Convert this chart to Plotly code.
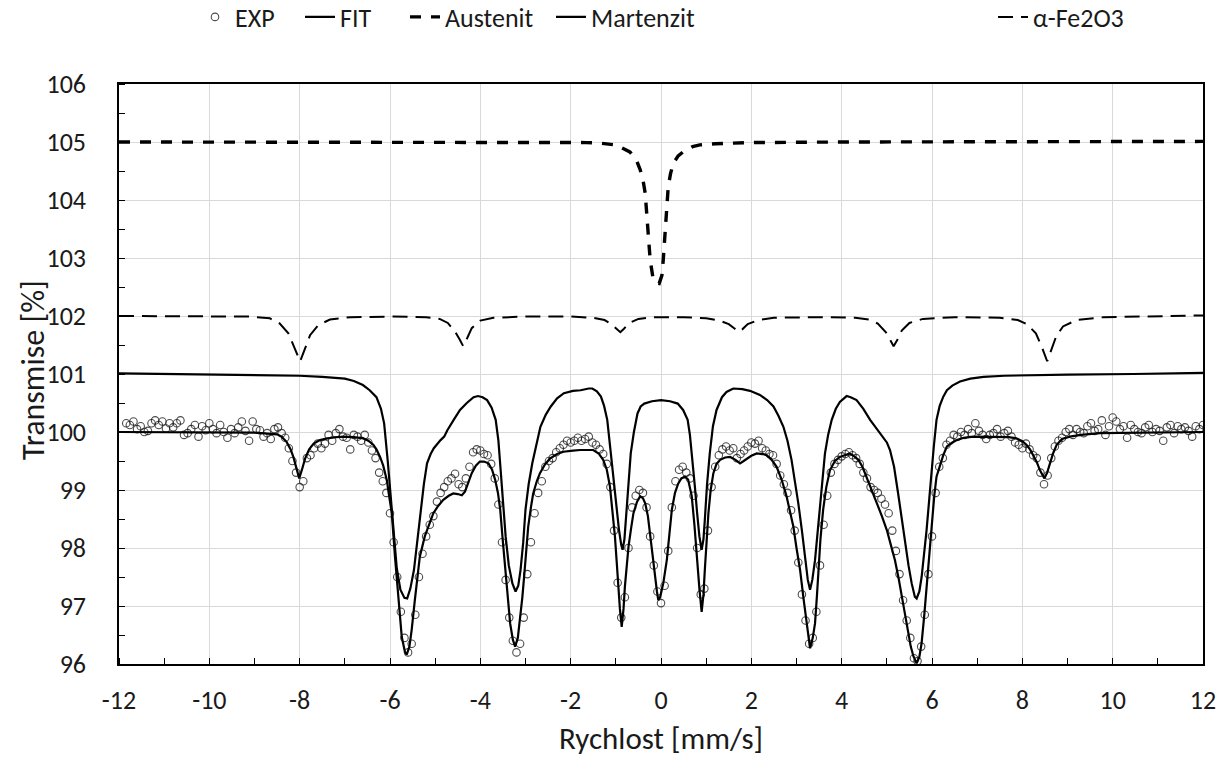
import numpy as np
import plotly.graph_objects as go

# ---------------- DATA ----------------
# Experimental points: velocity grid -11.84 ... 12.00 mm/s (step 0.08), transmission values
exp_x_start = -11.84
exp_x_step = 0.08
exp_y = [
    100.15, 100.12, 100.18, 100.05, 100.10, 100.00, 100.02, 100.15, 100.20, 100.12,
    100.18, 100.06, 100.15, 100.08, 100.15, 100.20, 99.95, 99.98, 100.05, 100.12,
    99.92, 100.10, 100.03, 100.15, 100.05, 99.98, 100.12, 100.00, 99.90, 100.05,
    99.98, 100.08, 100.18, 100.02, 99.85, 100.18, 100.05, 100.03, 99.92, 99.98,
    99.88, 100.05, 100.08, 99.98, 99.90, 99.72, 99.50, 99.30, 99.05, 99.15,
    99.55, 99.60, 99.72, 99.80, 99.72, 99.80, 99.95, 99.85, 99.98, 100.05,
    99.92, 99.90, 99.70, 99.95, 99.92, 99.85, 99.95, 99.82, 99.68, 99.55,
    99.30, 99.15, 98.95, 98.60, 98.10, 97.50, 96.90, 96.45, 96.20, 96.35,
    96.85, 97.50, 97.90, 98.20, 98.40, 98.55, 98.80, 98.95, 99.05, 99.15,
    99.20, 99.28, 99.10, 99.05, 99.20, 99.40, 99.65, 99.70, 99.68, 99.62,
    99.60, 99.45, 99.20, 98.75, 98.10, 97.45, 96.80, 96.40, 96.20, 96.35,
    96.80, 97.55, 98.10, 98.60, 98.95, 99.15, 99.40, 99.50, 99.55, 99.65,
    99.72, 99.78, 99.85, 99.82, 99.85, 99.90, 99.85, 99.88, 99.92, 99.82,
    99.78, 99.70, 99.62, 99.45, 99.05, 98.30, 97.40, 96.80, 97.15, 98.00,
    98.70, 98.90, 99.00, 98.95, 98.70, 98.20, 97.70, 97.25, 97.05, 97.35,
    97.95, 98.70, 99.15, 99.35, 99.40, 99.30, 99.20, 98.90, 98.00, 97.20,
    97.30, 98.30, 99.05, 99.40, 99.60, 99.70, 99.75, 99.68, 99.72, 99.55,
    99.62, 99.68, 99.75, 99.82, 99.80, 99.85, 99.72, 99.68, 99.62, 99.60,
    99.45, 99.25, 99.10, 98.95, 98.65, 98.30, 97.75, 97.20, 96.75, 96.35,
    96.45, 96.90, 97.70, 98.40, 98.90, 99.30, 99.45, 99.52, 99.58, 99.62,
    99.65, 99.60, 99.55, 99.45, 99.30, 99.20, 99.05, 99.00, 98.95, 98.85,
    98.75, 98.60, 98.30, 97.95, 97.55, 97.10, 96.75, 96.45, 96.10, 96.05,
    96.30, 96.85, 97.55, 98.20, 98.95, 99.40, 99.55, 99.78, 99.85, 99.95,
    99.92, 100.00, 99.95, 100.05, 99.98, 100.15, 100.02, 99.95, 99.88, 99.95,
    99.98, 100.05, 99.92, 99.98, 100.02, 99.92, 99.82, 99.78, 99.72, 99.80,
    99.70, 99.60, 99.55, 99.30, 99.10, 99.25, 99.55, 99.75, 99.85, 99.90,
    100.00, 100.05, 99.95, 100.05, 100.00, 99.98, 100.10, 100.15, 100.02, 100.05,
    100.20, 99.95, 100.10, 100.25, 100.18, 100.05, 100.10, 99.90, 100.12, 100.05,
    100.00, 99.98, 100.08, 100.12, 100.00, 100.05, 100.02, 99.85, 100.08, 100.12,
    99.98, 100.10, 100.05, 100.08, 100.02, 99.92, 100.10, 100.05, 100.12,
]

fit_x = [-12.0, -11.0, -10.0, -9.0, -8.5, -8.4, -8.29, -8.2, -8.14, -8.07, -8.01, -7.95, -7.88, -7.79,
         -7.69, -7.55, -7.39, -7.2, -7.03, -6.8, -6.59, -6.48, -6.37, -6.3, -6.22, -6.15, -6.07, -6.02,
         -5.96, -5.89, -5.81, -5.74, -5.67, -5.63, -5.57, -5.52, -5.45, -5.39, -5.34, -5.23, -5.13, -5.04,
         -4.93, -4.82, -4.7, -4.6, -4.5, -4.41, -4.34, -4.26, -4.19, -4.1, -4.01, -3.92, -3.82, -3.74,
         -3.67, -3.61, -3.56, -3.5, -3.45, -3.39, -3.34, -3.28, -3.23, -3.17, -3.12, -3.07, -3.03, -2.98,
         -2.94, -2.88, -2.83, -2.75, -2.68, -2.57, -2.46, -2.3, -2.16, -1.95, -1.79, -1.5, -1.38, -1.28,
         -1.2, -1.13, -1.07, -1.02, -0.98, -0.95, -0.91, -0.87, -0.83, -0.8, -0.76, -0.72, -0.66, -0.61,
         -0.53, -0.46, -0.4, -0.35, -0.29, -0.24, -0.18, -0.13, -0.09, -0.06, -0.02, 0.05, 0.13, 0.18,
         0.24, 0.31, 0.38, 0.45, 0.53, 0.6, 0.68, 0.74, 0.79, 0.85, 0.9, 0.94, 0.97, 1.01, 1.05, 1.1,
         1.16, 1.23, 1.31, 1.42, 1.53, 1.65, 1.75, 1.83, 1.9, 2.0, 2.12, 2.25, 2.34, 2.45, 2.56, 2.67,
         2.78, 2.86, 2.93, 3.0, 3.08, 3.16, 3.23, 3.3, 3.36, 3.41, 3.45, 3.48, 3.53, 3.59, 3.66, 3.74,
         3.85, 3.96, 4.08, 4.18, 4.28, 4.37, 4.46, 4.55, 4.66, 4.78, 4.89, 5.0, 5.09, 5.18, 5.26, 5.33,
         5.4, 5.47, 5.53, 5.59, 5.66, 5.72, 5.77, 5.83, 5.88, 5.94, 5.99, 6.05, 6.1, 6.18, 6.25, 6.33,
         6.45, 6.55, 6.7, 6.91, 7.2, 7.5, 7.7, 7.87, 8.0, 8.09, 8.17, 8.24, 8.32, 8.39, 8.44, 8.49,
         8.55, 8.61, 8.68, 8.76, 8.88, 9.05, 9.3, 9.72, 10.5, 11.2, 12.0]
fit_y = [100.0, 100.0, 100.0, 99.99, 99.96, 99.92, 99.83, 99.7, 99.57, 99.38, 99.2, 99.35, 99.54, 99.7,
         99.8, 99.86, 99.89, 99.91, 99.92, 99.91, 99.89, 99.85, 99.78, 99.7, 99.57, 99.42, 99.17, 98.9,
         98.6, 97.85, 97.05, 96.47, 96.21, 96.16, 96.3, 96.59, 97.1, 97.55, 97.85, 98.2, 98.42, 98.6,
         98.73, 98.83, 98.9, 98.94, 98.93, 98.91, 98.97, 99.15, 99.29, 99.42, 99.49, 99.49, 99.46, 99.35,
         99.17, 98.95, 98.66, 98.1, 97.62, 97.1, 96.7, 96.42, 96.3, 96.45, 96.76, 97.15, 97.51, 97.95,
         98.37, 98.7, 98.94, 99.15, 99.29, 99.44, 99.54, 99.62, 99.66, 99.68, 99.69, 99.69, 99.63, 99.52,
         99.35, 99.06, 98.65, 98.2, 97.75, 97.33, 96.95, 96.64, 96.95, 97.33, 97.7, 98.02, 98.35, 98.6,
         98.8, 98.89, 98.86, 98.77, 98.55, 98.25, 97.85, 97.51, 97.25, 97.1, 97.15, 97.39, 97.8, 98.2,
         98.66, 98.95, 99.11, 99.2, 99.23, 99.18, 98.9, 98.4, 97.85, 97.3, 96.9, 97.2, 97.62, 98.1, 98.6, 99.0,
         99.29, 99.45, 99.52, 99.56, 99.57, 99.52, 99.46, 99.5, 99.54, 99.59, 99.63, 99.62, 99.6, 99.52, 99.4, 99.18,
         98.89, 98.62, 98.37, 98.0, 97.62, 97.1, 96.7, 96.27, 96.45, 96.7, 97.15, 97.62, 98.15, 98.66, 99.05, 99.34,
         99.5, 99.57, 99.61, 99.63, 99.58, 99.52, 99.4, 99.23, 99.0, 98.77, 98.55, 98.31, 98.05, 97.79, 97.48, 97.16,
         96.85, 96.53, 96.3, 96.13, 96.01, 96.12, 96.36, 96.85, 97.33, 97.95, 98.48, 98.9, 99.23, 99.45, 99.6, 99.75,
         99.82, 99.86, 99.9, 99.92, 99.92, 99.92, 99.91, 99.89, 99.84, 99.78, 99.7, 99.6, 99.48, 99.34, 99.26, 99.2,
         99.3, 99.46, 99.63, 99.78, 99.88, 99.92, 99.95, 99.98, 99.99, 100.0, 100.0]

aus_x = [-12.0, -10.0, -8.0, -6.0, -4.0, -2.5, -1.65, -1.35, -1.0, -0.69, -0.55, -0.46, -0.4, -0.35,
         -0.3, -0.27, -0.24, -0.17, -0.1, -0.04, 0.02, 0.05, 0.08, 0.1, 0.16, 0.21, 0.27, 0.38, 0.49,
         0.7, 0.86, 1.2, 2.0, 4.0, 8.0, 12.0]
aus_y = [105.0, 105.0, 105.0, 105.0, 105.0, 104.99, 104.99, 104.98, 104.95, 104.83, 104.7, 104.52, 104.35,
         104.12, 103.66, 103.3, 102.97, 102.62, 102.57, 102.56, 102.7, 102.97, 103.3, 103.66, 104.23,
         104.45, 104.63, 104.76, 104.83, 104.92, 104.95, 104.97, 104.99, 105.0, 105.0, 105.01]

mar_x = [-12.0, -11.0, -10.0, -9.0, -8.5, -8.0, -7.5, -7.0, -6.8, -6.6, -6.45, -6.3, -6.2, -6.13, -6.05,
         -5.98, -5.92, -5.85, -5.77, -5.68, -5.62, -5.55, -5.47, -5.4, -5.33, -5.25, -5.18, -5.1, -5.03,
         -4.95, -4.88, -4.8, -4.73, -4.59, -4.45, -4.3, -4.15, -4.05, -3.95, -3.85, -3.75, -3.66, -3.6,
         -3.55, -3.5, -3.44, -3.37, -3.29, -3.22, -3.16, -3.11, -3.05, -3.0, -2.93, -2.85, -2.76, -2.67,
         -2.55, -2.44, -2.3, -2.15, -1.95, -1.78, -1.6, -1.52, -1.42, -1.33, -1.26, -1.19, -1.12, -1.04,
         -0.98, -0.93, -0.88, -0.85, -0.81, -0.78, -0.72, -0.67, -0.6, -0.52, -0.45, -0.37, -0.2, 0.0,
         0.2, 0.37, 0.49, 0.59, 0.64, 0.7, 0.75, 0.8, 0.85, 0.9, 0.94, 0.97, 1.02, 1.08, 1.15, 1.23,
         1.35, 1.45, 1.6, 1.8, 1.97, 2.19, 2.35, 2.49, 2.6, 2.71, 2.8, 2.89, 2.97, 3.04, 3.12, 3.19,
         3.25, 3.3, 3.35, 3.41, 3.47, 3.52, 3.58, 3.63, 3.7, 3.78, 3.87, 3.96, 4.11, 4.2, 4.33, 4.48,
         4.63, 4.78, 4.92, 5.0, 5.07, 5.16, 5.25, 5.33, 5.4, 5.48, 5.55, 5.62, 5.66, 5.72, 5.77, 5.83,
         5.88, 5.94, 5.99, 6.04, 6.1, 6.17, 6.25, 6.33, 6.45, 6.62, 6.85, 7.14, 7.6, 8.24, 9.0, 10.46,
         11.5, 12.0]
mar_y = [101.01, 101.0, 100.99, 100.99, 100.98, 100.97, 100.95, 100.92, 100.88, 100.81, 100.72, 100.6,
         100.4, 100.15, 99.5, 98.8, 98.2, 97.65, 97.28, 97.14, 97.13, 97.3, 97.62, 98.1, 98.66, 99.1,
         99.46, 99.62, 99.72, 99.8, 99.86, 99.92, 100.03, 100.21, 100.38, 100.5, 100.6, 100.62, 100.6,
         100.55, 100.42, 100.21, 99.85, 99.34, 98.75, 98.2, 97.7, 97.39, 97.25, 97.35, 97.62, 98.1,
         98.66, 99.1, 99.46, 99.8, 100.09, 100.3, 100.44, 100.58, 100.67, 100.71, 100.72, 100.75,
         100.75, 100.7, 100.61, 100.45, 100.21, 99.7, 99.06, 98.6, 98.31, 98.05, 97.97, 98.15, 98.48,
         99.1, 99.63, 100.0, 100.32, 100.44, 100.49, 100.53, 100.55, 100.53, 100.49, 100.38, 100.21,
         99.95, 99.5, 99.06, 98.6, 98.2, 97.97, 98.15, 98.48, 99.1, 99.63, 100.1, 100.38, 100.6, 100.69,
         100.75, 100.74, 100.71, 100.64, 100.55, 100.44, 100.28, 100.09, 99.85, 99.52, 99.15, 98.77,
         98.3, 97.85, 97.45, 97.28, 97.45, 97.79, 98.3, 98.77, 99.25, 99.63, 99.95, 100.21, 100.4,
         100.52, 100.62, 100.6, 100.55, 100.4, 100.21, 100.05, 99.92, 99.82, 99.69, 99.4, 98.94, 98.5,
         98.08, 97.7, 97.39, 97.16, 97.13, 97.25, 97.5, 97.9, 98.31, 98.85, 99.34, 99.75, 100.21, 100.45,
         100.61, 100.72, 100.8, 100.87, 100.92, 100.95, 100.97, 100.98, 100.99, 101.0, 101.01, 101.02]

hem_x = [-12.0, -10.0, -9.1, -8.66, -8.44, -8.25, -8.1, -7.99, -7.88, -7.77, -7.59, -7.33, -6.88, -6.0,
         -5.2, -4.9, -4.72, -4.56, -4.46, -4.38, -4.29, -4.19, -4.0, -3.71, -3.0, -2.0, -1.5, -1.25,
         -1.1, -0.98, -0.9, -0.82, -0.7, -0.5, -0.2, 0.5, 1.0, 1.3, 1.5, 1.62, 1.72, 1.8, 1.92, 2.15,
         2.5, 3.5, 4.3, 4.6, 4.8, 4.98, 5.07, 5.15, 5.24, 5.33, 5.5, 5.8, 6.5, 7.5, 7.9, 8.1, 8.3,
         8.44, 8.55, 8.65, 8.75, 8.9, 9.2, 9.8, 11.0, 12.0]
hem_y = [102.0, 102.0, 101.99, 101.96, 101.87, 101.7, 101.44, 101.22, 101.44, 101.67, 101.84, 101.94,
         101.98, 101.99, 101.98, 101.95, 101.88, 101.73, 101.6, 101.48, 101.62, 101.79, 101.92, 101.97,
         101.99, 101.99, 101.97, 101.93, 101.86, 101.77, 101.72, 101.78, 101.88, 101.95, 101.98, 101.98,
         101.96, 101.92, 101.86, 101.79, 101.73, 101.77, 101.86, 101.93, 101.97, 101.98, 101.97, 101.94,
         101.87, 101.72, 101.6, 101.48, 101.6, 101.75, 101.88, 101.95, 101.98, 101.97, 101.93, 101.86,
         101.7, 101.45, 101.22, 101.42, 101.65, 101.82, 101.93, 101.98, 102.0, 102.01]

x_ticks = [-12, -10, -8, -6, -4, -2, 0, 2, 4, 6, 8, 10, 12]
y_ticks = [96, 97, 98, 99, 100, 101, 102, 103, 104, 105, 106]

exp_x = np.round(exp_x_start + exp_x_step * np.arange(len(exp_y)), 2)

# ---------------- FIGURE ----------------
FONT = "Carlito, Calibri, Lato, sans-serif"
TXT = "#1a1a1a"
W, H = 1220, 758
L, R, T, B = 119, 17, 84, 94

fig = go.Figure()
fig.add_trace(go.Scatter(
    x=exp_x, y=exp_y, mode="markers", name="EXP", legend="legend",
    marker=dict(symbol="circle-open", size=7.5, color="rgba(25,25,25,0.78)", line=dict(width=1.1)),
))
fig.add_trace(go.Scatter(
    x=fit_x, y=fit_y, mode="lines", name="FIT", legend="legend2",
    line=dict(color="black", width=2.2),
))
fig.add_trace(go.Scatter(
    x=aus_x, y=aus_y, mode="lines", name="Austenit", legend="legend3",
    line=dict(color="black", width=3.4, dash="11px,10px"),
))
fig.add_trace(go.Scatter(
    x=mar_x, y=mar_y, mode="lines", name="Martenzit", legend="legend4",
    line=dict(color="black", width=2.2),
))
fig.add_trace(go.Scatter(
    x=hem_x, y=hem_y, mode="lines", name="α-Fe2O3", legend="legend5",
    line=dict(color="black", width=2.0, dash="15px,8px"),
))

def leg(px_left):
    return dict(orientation="h", xref="container", yref="container",
                x=px_left / W, xanchor="left", y=1 - 17 / H, yanchor="middle",
                font=dict(family=FONT, size=26, color=TXT),
                bgcolor="rgba(0,0,0,0)", borderwidth=0)

fig.update_layout(
    width=W, height=H,
    margin=dict(l=L, r=R, t=T, b=B, autoexpand=False),
    paper_bgcolor="white", plot_bgcolor="white",
    font=dict(family=FONT, size=22, color=TXT),
    showlegend=True,
    legend=leg(195), legend2=leg(300), legend3=leg(405), legend4=leg(551), legend5=leg(993),
    annotations=[
        dict(text="Rychlost [mm/s]", xref="paper", yref="paper", x=0.5, y=-(738 - (H - B)) / (H - T - B),
             xanchor="center", yanchor="middle", showarrow=False,
             font=dict(family=FONT, size=31, color=TXT)),
        dict(text="Transmise [%]", xref="paper", yref="paper", x=-(L - 34) / (W - L - R), y=0.507,
             xanchor="center", yanchor="middle", textangle=-90, showarrow=False,
             font=dict(family=FONT, size=32, color=TXT)),
    ],
)

fig.update_xaxes(
    range=[-12, 12], tickmode="array", tickvals=x_ticks, ticktext=[str(v) for v in x_ticks],
    showgrid=True, gridcolor="#d9d9d9", gridwidth=1, zeroline=False, automargin=False,
    showline=True, linecolor="black", linewidth=1.5, mirror=True,
    ticks="", ticklabelstandoff=12,
    tickfont=dict(family=FONT, size=26, color=TXT),
    minor=dict(dtick=1, tick0=-12, ticks="inside", ticklen=6, tickcolor="black", tickwidth=1, showgrid=False),
)
fig.update_yaxes(
    range=[96, 106], tickmode="array", tickvals=y_ticks, ticktext=[str(v) for v in y_ticks],
    showgrid=True, gridcolor="#d9d9d9", gridwidth=1, zeroline=False, automargin=False,
    showline=True, linecolor="black", linewidth=1.5, mirror=True,
    ticks="", ticklabelstandoff=26,
    tickfont=dict(family=FONT, size=26, color=TXT),
    minor=dict(dtick=0.5, tick0=96, ticks="inside", ticklen=6, tickcolor="black", tickwidth=1, showgrid=False),
)

fig.write_html("out.html", config={"displayModeBar": False},
               post_script="document.body.style.margin='0';")
